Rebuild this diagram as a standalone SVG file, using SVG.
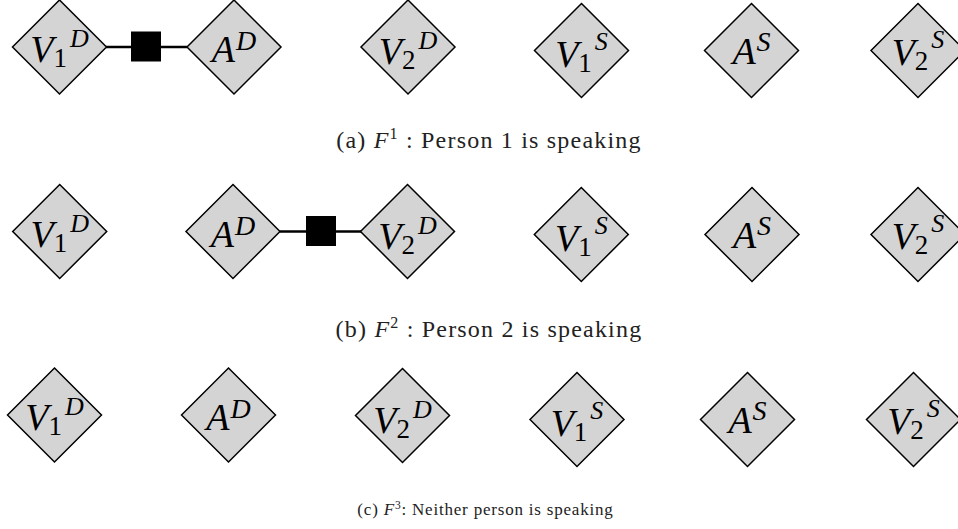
<svg xmlns="http://www.w3.org/2000/svg" xmlns:xlink="http://www.w3.org/1999/xlink" width="958" height="529" viewBox="0 0 958 529">
<style>
.dia{fill:#d4d4d4;stroke:#000;stroke-width:1.5;stroke-linejoin:miter}
.lbl{font-family:"Liberation Serif","Times New Roman",serif;fill:#000;text-anchor:middle}
.m{font-style:italic;font-size:38px}
.sb{font-size:27px}
.sp{font-style:italic;font-size:26px}
.sp2{font-style:italic;font-size:28px}
.edge{stroke:#000;stroke-width:2.5;fill:none}
.fac{fill:#000}
.cap{font-family:"Liberation Serif","Times New Roman",serif;font-size:24px;fill:#222;text-anchor:middle}
.capc{font-size:17px}
</style>
<defs>
<polygon id="dia" class="dia" points="0,-47 47,0 0,47 -47,0"/>
</defs>

<g id="connectors">
<line class="edge" x1="106" y1="47" x2="187" y2="47"/>
<rect class="fac" x="131" y="31.5" width="30" height="30"/>
<line class="edge" x1="280" y1="231.5" x2="361" y2="231.5"/>
<rect class="fac" x="306" y="216" width="30" height="30"/>
</g>

<!-- Row a -->
<g id="a_V1D"><use xlink:href="#dia" x="59.5" y="47"/><text class="lbl" x="59.5" y="62"><tspan class="m">V</tspan><tspan class="sb" dy="5">1</tspan><tspan class="sp" dx="3" dy="-20">D</tspan></text></g>
<g id="a_AD"><use xlink:href="#dia" x="234" y="47"/><text class="lbl" x="234" y="62"><tspan class="m">A</tspan><tspan class="sp2" dx="1" dy="-12">D</tspan></text></g>
<g id="a_V2D"><use xlink:href="#dia" x="408" y="47"/><text class="lbl" x="408" y="64"><tspan class="m">V</tspan><tspan class="sb" dy="5">2</tspan><tspan class="sp" dx="3" dy="-20">D</tspan></text></g>
<g id="a_V1S"><use xlink:href="#dia" x="581.5" y="50.5"/><text class="lbl" x="581.5" y="67"><tspan class="m">V</tspan><tspan class="sb" dy="5">1</tspan><tspan class="sp" dx="3" dy="-22">S</tspan></text></g>
<g id="a_AS"><use xlink:href="#dia" x="751.5" y="50.5"/><text class="lbl" x="751.5" y="63.5"><tspan class="m">A</tspan><tspan class="sp2" dx="1" dy="-13">S</tspan></text></g>
<g id="a_V2S"><use xlink:href="#dia" x="918" y="50.5"/><text class="lbl" x="918" y="65"><tspan class="m">V</tspan><tspan class="sb" dy="5">2</tspan><tspan class="sp" dx="3" dy="-22">S</tspan></text></g>

<!-- Row b -->
<g id="b_V1D"><use xlink:href="#dia" x="59.7" y="231.5"/><text class="lbl" x="59.7" y="246.5"><tspan class="m">V</tspan><tspan class="sb" dy="5">1</tspan><tspan class="sp" dx="3" dy="-20">D</tspan></text></g>
<g id="b_AD"><use xlink:href="#dia" x="233" y="231.5"/><text class="lbl" x="233" y="246.5"><tspan class="m">A</tspan><tspan class="sp2" dx="1" dy="-12">D</tspan></text></g>
<g id="b_V2D"><use xlink:href="#dia" x="407.5" y="231.5"/><text class="lbl" x="407.5" y="248.5"><tspan class="m">V</tspan><tspan class="sb" dy="5">2</tspan><tspan class="sp" dx="3" dy="-20">D</tspan></text></g>
<g id="b_V1S"><use xlink:href="#dia" x="581.3" y="234.5"/><text class="lbl" x="581.3" y="251"><tspan class="m">V</tspan><tspan class="sb" dy="5">1</tspan><tspan class="sp" dx="3" dy="-22">S</tspan></text></g>
<g id="b_AS"><use xlink:href="#dia" x="752" y="234.5"/><text class="lbl" x="752" y="247.5"><tspan class="m">A</tspan><tspan class="sp2" dx="1" dy="-13">S</tspan></text></g>
<g id="b_V2S"><use xlink:href="#dia" x="918" y="234.5"/><text class="lbl" x="918" y="249"><tspan class="m">V</tspan><tspan class="sb" dy="5">2</tspan><tspan class="sp" dx="3" dy="-22">S</tspan></text></g>

<!-- Row c -->
<g id="c_V1D"><use xlink:href="#dia" x="54.5" y="415"/><text class="lbl" x="54.5" y="430"><tspan class="m">V</tspan><tspan class="sb" dy="5">1</tspan><tspan class="sp" dx="3" dy="-20">D</tspan></text></g>
<g id="c_AD"><use xlink:href="#dia" x="228.5" y="415"/><text class="lbl" x="228.5" y="430"><tspan class="m">A</tspan><tspan class="sp2" dx="1" dy="-12">D</tspan></text></g>
<g id="c_V2D"><use xlink:href="#dia" x="402.5" y="415.5"/><text class="lbl" x="402.5" y="432.5"><tspan class="m">V</tspan><tspan class="sb" dy="5">2</tspan><tspan class="sp" dx="3" dy="-20">D</tspan></text></g>
<g id="c_V1S"><use xlink:href="#dia" x="577" y="419.5"/><text class="lbl" x="577" y="436"><tspan class="m">V</tspan><tspan class="sb" dy="5">1</tspan><tspan class="sp" dx="3" dy="-22">S</tspan></text></g>
<g id="c_AS"><use xlink:href="#dia" x="747.5" y="419.5"/><text class="lbl" x="747.5" y="432.5"><tspan class="m">A</tspan><tspan class="sp2" dx="1" dy="-13">S</tspan></text></g>
<g id="c_V2S"><use xlink:href="#dia" x="913.5" y="419.5"/><text class="lbl" x="913.5" y="434"><tspan class="m">V</tspan><tspan class="sb" dy="5">2</tspan><tspan class="sp" dx="3" dy="-22">S</tspan></text></g>

<!-- Captions -->
<g id="captions">
<text class="cap" x="489" y="148" letter-spacing="1.2">(a) <tspan font-style="italic">F</tspan><tspan style="font-size:16px" dy="-9">1</tspan><tspan dy="9"> : Person 1 is speaking</tspan></text>
<text class="cap" x="489" y="337" letter-spacing="1.2">(b) <tspan font-style="italic">F</tspan><tspan style="font-size:16px" dy="-9">2</tspan><tspan dy="9"> : Person 2 is speaking</tspan></text>
<text class="cap capc" x="485.5" y="515" letter-spacing="0.8">(c) <tspan font-style="italic">F</tspan><tspan style="font-size:11.5px" dy="-6.5">3</tspan><tspan dy="6.5">: Neither person is speaking</tspan></text>
</g>
</svg>
